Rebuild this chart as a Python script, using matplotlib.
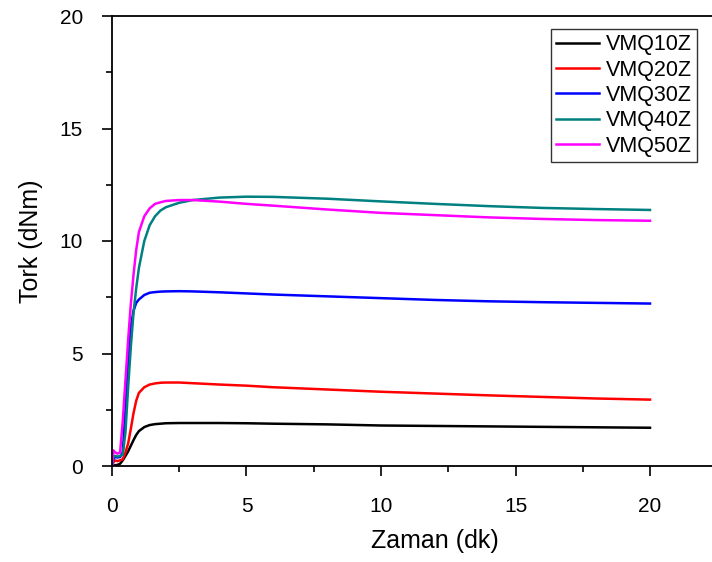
import matplotlib
matplotlib.use("Agg")
import matplotlib.pyplot as plt
from matplotlib.ticker import MultipleLocator

plt.rcParams['font.family'] = ['Liberation Sans', 'DejaVu Sans']

t = [0, 0.05, 0.1, 0.2, 0.3, 0.4, 0.5, 0.6, 0.7, 0.8, 0.9, 1.0, 1.2, 1.4, 1.6, 1.8,
     2.0, 2.5, 3, 4, 5, 6, 8, 10, 12, 14, 16, 18, 20]

vmq10z = [0, 0.02, 0.03, 0.05, 0.1, 0.25, 0.45, 0.65, 0.9, 1.15, 1.38, 1.55, 1.73, 1.82, 1.86, 1.88,
          1.9, 1.91, 1.91, 1.91, 1.9, 1.88, 1.85, 1.8, 1.78, 1.76, 1.74, 1.72, 1.7]
vmq20z = [0, 0.15, 0.25, 0.22, 0.25, 0.3, 0.6, 1.0, 1.65, 2.35, 2.9, 3.25, 3.5, 3.62, 3.67, 3.7,
          3.71, 3.71, 3.68, 3.62, 3.57, 3.5, 3.4, 3.3, 3.22, 3.14, 3.07, 3.0, 2.95]
vmq30z = [0, 0.3, 0.4, 0.38, 0.4, 0.6, 2.5, 4.6, 6.2, 6.9, 7.25, 7.4, 7.6, 7.7, 7.73, 7.75,
          7.76, 7.77, 7.76, 7.72, 7.67, 7.62, 7.54, 7.46, 7.38, 7.32, 7.28, 7.25, 7.22]
vmq40z = [0, 0.4, 0.45, 0.42, 0.45, 0.5, 1.5, 3.5, 5.3, 6.8, 7.9, 8.8, 10.0, 10.7, 11.1, 11.35,
          11.5, 11.7, 11.82, 11.93, 11.97, 11.96, 11.88, 11.76, 11.65, 11.55, 11.47, 11.42, 11.38]
vmq50z = [0, 0.7, 0.62, 0.55, 0.6, 2.0, 3.8, 5.6, 7.2, 8.5, 9.6, 10.4, 11.1, 11.45, 11.65, 11.72,
          11.78, 11.82, 11.82, 11.75, 11.65, 11.57, 11.4, 11.25, 11.15, 11.05, 10.98, 10.93, 10.9]

labels = ["VMQ10Z", "VMQ20Z", "VMQ30Z", "VMQ40Z", "VMQ50Z"]
colors = ["#000000", "#ff0000", "#0000ff", "#008080", "#ff00ff"]
series = [vmq10z, vmq20z, vmq30z, vmq40z, vmq50z]

fig = plt.figure(figsize=(7.12, 5.62), dpi=100)
ax = fig.add_axes([112/712, 96/562, 24*26.9/712, 450/562])

for s, c, l in zip(series, colors, labels):
    ax.plot(t, s, color=c, lw=1.8, label=l)

ax.set_xlim(0, 24)
ax.set_ylim(0, 20)
ax.xaxis.set_minor_locator(MultipleLocator(2.5))
ax.yaxis.set_major_locator(MultipleLocator(5))
ax.yaxis.set_minor_locator(MultipleLocator(2.5))
ax.set_xticks([0, 5, 10, 15, 20])
ax.tick_params(which='major', direction='out', length=7, width=1.2, labelsize=15)
ax.tick_params(axis='x', which='major', pad=15)
ax.tick_params(axis='y', which='major', pad=14)
ax.tick_params(which='minor', direction='out', length=4, width=1.2)
for sp in ax.spines.values():
    sp.set_linewidth(1.3)

ax.set_xlabel("Zaman (dk)", fontsize=18, labelpad=10)
ax.set_ylabel("Tork (dNm)", fontsize=18, labelpad=12)

leg = ax.legend(loc='upper right', bbox_to_anchor=(697/712, 533/562),
                bbox_transform=fig.transFigure, fontsize=15.5, frameon=True,
                fancybox=False, handlelength=2.0, handletextpad=0.3,
                borderpad=0.25, labelspacing=0.2, borderaxespad=0)
leg.get_frame().set_edgecolor('black')
leg.get_frame().set_linewidth(1.0)

fig.savefig("out.png", dpi=100)
